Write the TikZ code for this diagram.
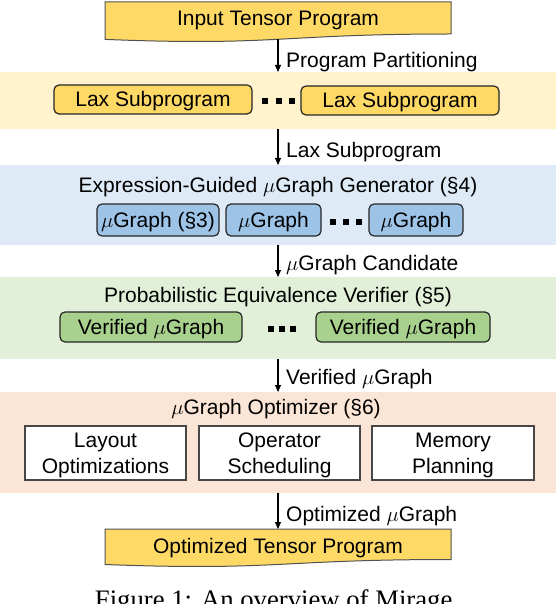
\documentclass[tikz,border=0pt]{standalone}
\usepackage{fontspec}
\setmainfont{Liberation Sans}
\newfontfamily\capfont{Liberation Serif}
\usepackage{tikz}
\usetikzlibrary{arrows.meta}
\definecolor{ylight}{HTML}{FFF2CC}
\definecolor{ydark}{HTML}{FFD966}
\definecolor{blight}{HTML}{DEEBF7}
\definecolor{bdark}{HTML}{9DC3E6}
\definecolor{glight}{HTML}{E2F0D9}
\definecolor{gdark}{HTML}{A9D18E}
\definecolor{olight}{HTML}{FBE5D6}
\definecolor{edge}{HTML}{262626}
\tikzset{
  band/.style={anchor=north west, minimum width=556pt, inner sep=0pt, outer sep=0pt},
  box/.style={draw=edge, line width=1.2pt, rounded corners=5pt, inner sep=0pt, outer sep=0pt, text height=17pt, text depth=2pt},
  wbox/.style={draw=edge!85, fill=white, line width=1.4pt, align=center, inner sep=0pt, minimum height=54pt, text depth=0pt},
  doc/.style={draw=edge!80, line width=1pt, fill=ydark},
  arr/.style={draw=black, line width=1.1pt, -{Triangle[length=7pt,width=6pt]}},
  lab/.style={anchor=west, inner sep=0pt, text height=17pt, text depth=2pt},
  ttl/.style={inner sep=0pt, text height=17pt, text depth=2pt},
}

\begin{document}
\begin{tikzpicture}[x=1pt, y=-1pt, font=\fontsize{21}{26}\selectfont]
  \useasboundingbox (0,0) rectangle (556,604);

  % stage bands
  \node[band, fill=ylight, minimum height=57pt] (part) at (0,72) {};
  \node[band, fill=blight, minimum height=80pt] (gen) at (0,165) {};
  \node[band, fill=glight, minimum height=82pt] (ver) at (0,277) {};
  \node[band, fill=olight, minimum height=101pt] (opt) at (0,392) {};

  % input program
  \draw[doc] (105,2) -- (451,2) -- (451,34) .. controls (278,34) and (278,46.3) .. (105,39.4) -- cycle;
  \node[ttl] (inp) at (278,18) {Input Tensor Program};
  \coordinate (inpb) at (278,39.3);

  % partitioning
  \node[box, fill=ydark, minimum width=198pt, minimum height=29pt] (lax1) at (153,99.5) {Lax Subprogram};
  \node[box, fill=ydark, minimum width=198pt, minimum height=29pt] (lax2) at (400,100.5) {Lax Subprogram};
  \fill (262,98) rectangle ++(6,6);
  \fill (276,98) rectangle ++(6,6);
  \fill (289,98) rectangle ++(6,6);

  % generator
  \node[ttl] (gent) at (278,185) {Expression-Guided $\mu$Graph Generator (§4)};
  \node[box, fill=bdark, minimum width=122pt, minimum height=32pt] (ug1) at (158,220) {$\mu$Graph (§3)};
  \node[box, fill=bdark, minimum width=95pt, minimum height=32pt] (ug2) at (273.5,220) {$\mu$Graph};
  \node[box, fill=bdark, minimum width=94pt, minimum height=32pt] (ug3) at (416,220) {$\mu$Graph};
  \fill (330,219) rectangle ++(6,6);
  \fill (343,219) rectangle ++(6,6);
  \fill (356,219) rectangle ++(6,6);

  % verifier
  \node[ttl] (vert) at (278,295) {Probabilistic Equivalence Verifier (§5)};
  \node[box, fill=gdark, minimum width=182pt, minimum height=30pt] (vg1) at (151,327) {Verified $\mu$Graph};
  \node[box, fill=gdark, minimum width=174pt, minimum height=30pt] (vg2) at (403,327) {Verified $\mu$Graph};
  \fill (268,326) rectangle ++(6,6);
  \fill (279,326) rectangle ++(6,6);
  \fill (290,326) rectangle ++(6,6);

  % optimizer
  \node[ttl] (optt) at (276,407) {$\mu$Graph Optimizer (§6)};
  \node[wbox, minimum width=161pt] (lay) at (105.5,453) {Layout\\Optimizations};
  \node[wbox, minimum width=161pt] (sch) at (279.5,453) {Operator\\Scheduling};
  \node[wbox, minimum width=162pt] (mem) at (453,453) {Memory\\Planning};

  % output program
  \draw[doc] (105,529) -- (451,529) -- (451,559.5) .. controls (278,559.5) and (278,571) .. (105,564.5) -- cycle;
  \node[ttl] (outp) at (278,546) {Optimized Tensor Program};
  \coordinate (outt) at (278,529);

  % arrows
  \draw[arr] (inpb) -- (inpb |- part.north);
  \draw[arr] (part.south) -- (gen.north);
  \draw[arr] (gen.south) -- (ver.north);
  \draw[arr] (ver.south) -- (opt.north);
  \draw[arr] (opt.south) -- (outt);
  \node[lab] (l1) at (286,60) {Program Partitioning};
  \node[lab] (l2) at (286,150) {Lax Subprogram};
  \node[lab] (l3) at (286,263) {$\mu$Graph Candidate};
  \node[lab] (l4) at (286,377) {Verified $\mu$Graph};
  \node[lab] (l5) at (286,514) {Optimized $\mu$Graph};

  \node[anchor=base, inner sep=0pt, font=\capfont\fontsize{26.7}{30}\selectfont] (cap) at (277,608) {Figure 1: An overview of Mirage.};
\end{tikzpicture}
\end{document}
